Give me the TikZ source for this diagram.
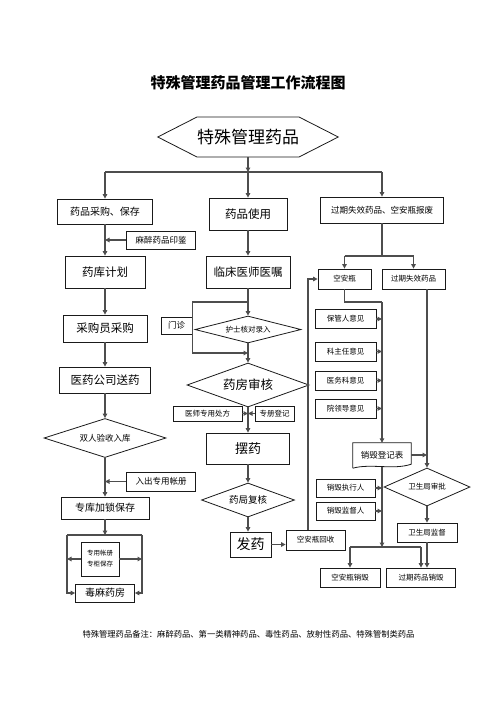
\documentclass[tikz,border=0pt]{standalone}
\usepackage{fontspec}
\newfontfamily\cjk{Noto Sans CJK SC}
\usetikzlibrary{arrows.meta, positioning, shapes.geometric, shapes.symbols, calc}
\definecolor{lineGray}{HTML}{4D4D4D}
\definecolor{boxEdge}{HTML}{1A1A1A}
\tikzset{
  arrowK/.style={-{Triangle[length=4.5pt, width=4.5pt]}, lineGray, line width=1.2pt},
  lineK/.style={lineGray, line width=1.2pt},
  boxA/.style={rectangle, draw=boxEdge, line width=0.8pt, align=center, inner sep=1pt},
  diamA/.style={diamond, draw=boxEdge, line width=0.8pt, align=center, inner sep=0pt},
  fXL/.style={font=\cjk\fontsize{17}{19}\selectfont},
  fL/.style={font=\cjk\fontsize{11.5}{13}\selectfont},
  fM/.style={font=\cjk\fontsize{10}{12}\selectfont},
  fS/.style={font=\cjk\fontsize{8.5}{10}\selectfont},
  fXS/.style={font=\cjk\fontsize{7.5}{9}\selectfont},
}

\begin{document}
\begin{tikzpicture}[x=1pt, y=-1pt]
  \useasboundingbox (0,0) rectangle (496,702);
  \node[font=\cjk\bfseries\fontsize{15}{17}\selectfont] (title) at (248,83) {特殊管理药品管理工作流程图};
  \node[signal, signal to=west and east, signal pointer angle=54, draw=boxEdge, line width=0.8pt,
        minimum width=168, minimum height=40, inner sep=0pt, fXL] (tsyp) at (248,137) {特殊管理药品};

  % left column
  \node[boxA, fM, minimum width=95, minimum height=25] (cgbc) at (105,211.5) {药品采购、保存};
  \node[boxA, fS, minimum width=69, minimum height=18] (mzyj) at (161,240) {麻醉药品印鉴};
  \node[boxA, fL, minimum width=80, minimum height=32] (ykjh) at (105,272) {药库计划};
  \node[boxA, fL, minimum width=84, minimum height=27] (cgy) at (105,328.5) {采购员采购};
  \node[boxA, fL, minimum width=91, minimum height=26] (yygs) at (105,380) {医药公司送药};
  \node[diamA, fS, aspect=3.1, minimum width=122, minimum height=39] (srys) at (105,438) {双人验收入库};
  \node[boxA, fS, minimum width=69, minimum height=19] (zyzc) at (161,481.5) {入出专用帐册};
  \node[boxA, fM, minimum width=88, minimum height=22] (zkjs) at (105,508) {专库加锁保存};
  \node[boxA, font=\cjk\fontsize{6.5}{11}\selectfont, minimum width=38, minimum height=34] (zgbc) at (100,559) {专用帐册\\专柜保存};
  \node[boxA, fM, minimum width=59, minimum height=18] (dmyf) at (105,593) {毒麻药房};

  % middle column
  \node[boxA, fL, minimum width=78, minimum height=32] (ypsy) at (248,214) {药品使用};
  \node[boxA, fL, minimum width=84, minimum height=32] (lcys) at (248,272) {临床医师医嘱};
  \node[diamA, fXS, aspect=3.9, minimum width=106, minimum height=27] (hshd) at (248,329.5) {护士核对录入};
  \node[boxA, fS, minimum width=31, minimum height=17] (mz) at (176.5,325.5) {门诊};
  \node[diamA, font=\cjk\fontsize{12.5}{14}\selectfont, aspect=2.8, minimum width=122, minimum height=44] (yfsh) at (248,385) {药房审核};
  \node[boxA, fXS, minimum width=69, minimum height=15] (yscf) at (207.5,413.5) {医师专用处方};
  \node[boxA, fXS, minimum width=39, minimum height=15] (zcdj) at (274.5,413.5) {专册登记};
  \node[boxA, font=\cjk\fontsize{13}{15}\selectfont, minimum width=83, minimum height=31] (by) at (248,448.5) {摆药};
  \node[diamA, font=\cjk\fontsize{9.5}{11}\selectfont, aspect=2.7, minimum width=93, minimum height=34] (yjfh) at (248,500) {药局复核};
  \node[boxA, font=\cjk\fontsize{14}{16}\selectfont, minimum width=41, minimum height=25] (fy) at (250.5,544.5) {发药};
  \node[boxA, fXS, minimum width=59, minimum height=20] (kahs) at (315.5,540) {空安瓶回收};

  % right column
  \node[boxA, fS, minimum width=123, minimum height=26] (gqbf) at (382,210) {过期失效药品、空安瓶报废};
  \node[boxA, fXS, minimum width=53, minimum height=20] (kab) at (344.5,279) {空安瓶};
  \node[boxA, fXS, minimum width=63, minimum height=20] (gqsx) at (413.5,279) {过期失效药品};
  \node[boxA, fXS, minimum width=61, minimum height=19] (bgr) at (345.5,319) {保管人意见};
  \node[boxA, fXS, minimum width=61, minimum height=19] (kzr) at (345.5,351.5) {科主任意见};
  \node[boxA, fXS, minimum width=61, minimum height=19] (ywk) at (345.5,380.5) {医务科意见};
  \node[boxA, fXS, minimum width=61, minimum height=19] (yld) at (345.5,408.5) {院领导意见};
  \node[fS, minimum width=58, minimum height=24, inner sep=1pt] (xhdj) at (382,455) {销毁登记表};
  \node[boxA, fXS, minimum width=59, minimum height=18] (xhzx) at (345.5,488) {销毁执行人};
  \node[boxA, fXS, minimum width=59, minimum height=18] (xhjd) at (345.5,511) {销毁监督人};
  \node[diamA, fXS, aspect=2.3, minimum width=86, minimum height=38] (wssp) at (427,487) {卫生局审批};
  \node[boxA, fXS, minimum width=60, minimum height=19] (wsjd) at (427,532.5) {卫生局监督};
  \node[boxA, fXS, minimum width=60, minimum height=19] (kaxh) at (350,577.5) {空安瓶销毁};
  \node[boxA, fXS, minimum width=69, minimum height=19] (gqxh) at (421,577.5) {过期药品销毁};

  \node[font=\cjk\fontsize{8.3}{10}\selectfont] (note) at (248.5,634)
    {特殊管理药品备注：麻醉药品、第一类精神药品、毒性药品、放射性药品、特殊管制类药品};

  % document shape of the register
  \draw[boxEdge, line width=0.8pt] ([yshift=-1pt]xhdj.south west) -- (xhdj.north west) -- (xhdj.north east)
    -- ([yshift=3pt]xhdj.south east)
    .. controls ([shift={(-18pt,-3pt)}]xhdj.south east) and ([shift={(18pt,4pt)}]xhdj.south west)
    .. ([yshift=-1pt]xhdj.south west);

  % top split
  \coordinate (hub) at (248,172);
  \draw[arrowK] (tsyp) -- (hub);
  \draw[lineK] (cgbc.north |- hub) -- (gqbf.north |- hub);
  \draw[arrowK] (cgbc.north |- hub) -- (cgbc.north);
  \draw[arrowK] (hub) -- (ypsy);
  \draw[arrowK] (gqbf.north |- hub) -- (gqbf.north);

  % left flow
  \draw[arrowK] (cgbc) -- (ykjh);
  \draw[arrowK] (mzyj.west) -- (mzyj.west -| cgbc.south);
  \draw[arrowK] (ykjh) -- (cgy);
  \draw[arrowK] (cgy) -- (yygs);
  \draw[arrowK] (yygs) -- (srys);
  \draw[arrowK] (srys) -- (zkjs);
  \draw[arrowK] (zyzc.west) -- (zyzc.west -| zkjs.north);
  \coordinate (bl) at (67,535);
  \coordinate (br) at (142,535);
  \draw[arrowK] (zkjs.south) -- (zkjs.south |- bl);
  \draw[lineK] (bl) -- (br);
  \draw[arrowK] (bl) |- (dmyf.west);
  \draw[arrowK] (br) |- (dmyf.east);
  \draw[arrowK] (zgbc.west) -- (zgbc.west -| bl);
  \draw[arrowK] (zgbc.east) -- (zgbc.east -| br);

  % middle flow
  \draw[arrowK] (ypsy) -- (lcys);
  \draw[arrowK] (lcys) -- (hshd);
  \coordinate (lpTop) at (248,302);
  \coordinate (lpBot) at (248,353);
  \draw[arrowK] (lpTop) -| (mz.east) |- (lpBot);
  \draw[arrowK] (hshd) -- (yfsh);
  \draw[arrowK] (yscf.east) -- (yscf.east -| by.north);
  \draw[arrowK] (zcdj.west) -- (zcdj.west -| by.north);
  \draw[arrowK] (yfsh) -- (by);
  \draw[arrowK] (by) -- (yjfh);
  \draw[arrowK] (yjfh.south) -- (yjfh.south |- fy.north);
  \draw[arrowK] (fy.east) -- (fy.east -| kahs.west);
  \draw[arrowK] ([xshift=-7.5pt]kahs.north) |- (kab.west);

  % right flow
  \coordinate (c3a) at (382,256);
  \draw[lineK] (gqbf.south) -- (c3a);
  \draw[lineK] (kab.north |- c3a) -- (gqsx.north |- c3a);
  \draw[arrowK] (kab.north |- c3a) -- (kab.north);
  \draw[arrowK] (gqsx.north |- c3a) -- (gqsx.north);
  \coordinate (c3b) at (382,302);
  \draw[lineK] (kab.south) |- (c3b);
  \draw[arrowK] (c3b) -- (xhdj.north);
  \foreach \b in {bgr, kzr, ywk, yld, xhzx, xhjd}
    \draw[arrowK] (\b.east) -- (\b.east -| c3b);
  \draw[arrowK] (gqsx.south -| wssp.north) -- (wssp.north);
  \draw[arrowK] (xhdj.east) -- (xhdj.east -| wssp.north);
  \coordinate (c3c) at (382,547);
  \draw[arrowK] (xhdj.south) -- (c3c);
  \draw[lineK] (c3c -| kaxh.north) -- (c3c -| gqxh.north);
  \draw[arrowK] (c3c -| kaxh.north) -- (kaxh.north);
  \draw[arrowK] (c3c -| gqxh.north) -- (gqxh.north);
  \draw[arrowK] (wssp) -- (wsjd);
  \draw[arrowK] (wsjd.south) -- (wsjd.south |- gqxh.north);
\end{tikzpicture}
\end{document}
